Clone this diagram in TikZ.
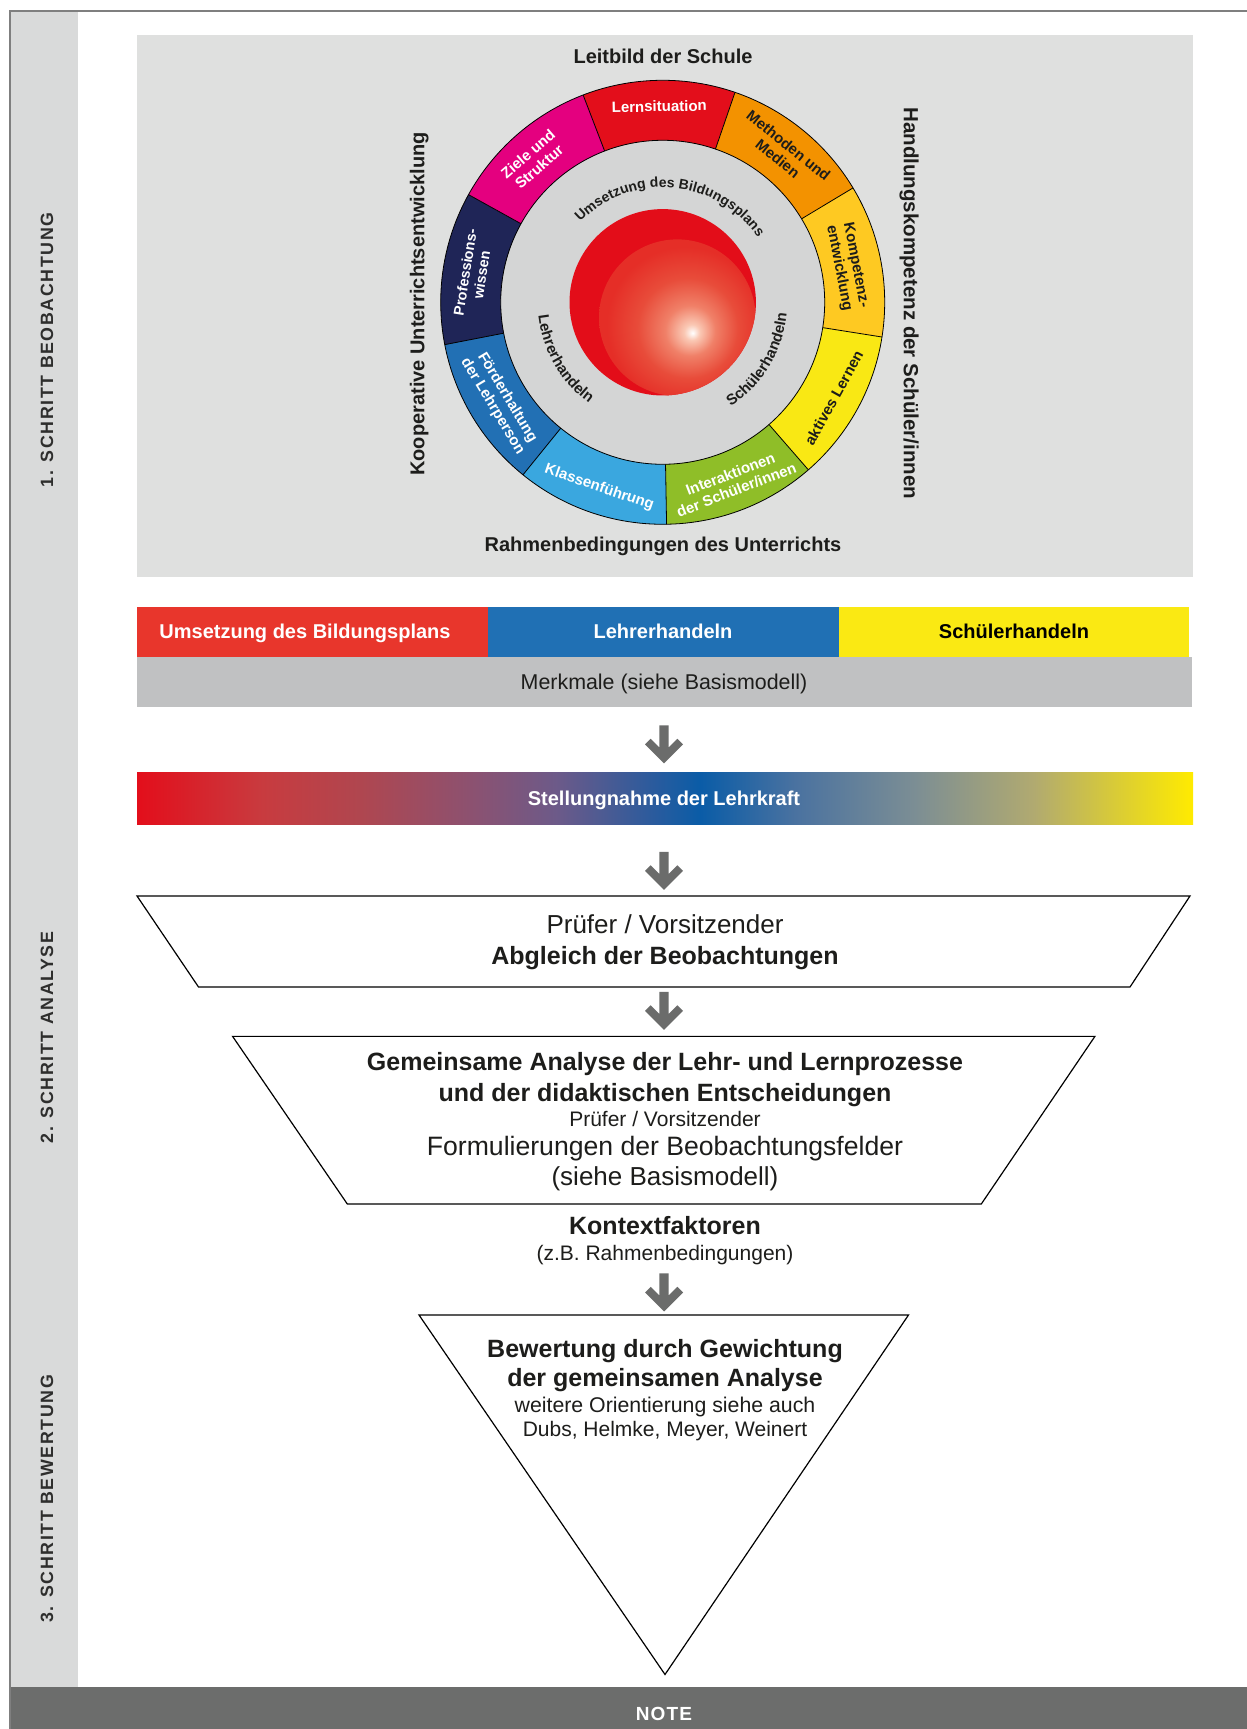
\documentclass[tikz,border=0pt]{standalone}
\usepackage{fontspec}
\setmainfont{Liberation Sans}
\newfontfamily\stepfont[LetterSpace=9]{Liberation Sans Bold}
\newfontfamily\notefont[LetterSpace=6]{Liberation Sans Bold}
\usetikzlibrary{decorations.text}
\definecolor{framegray}{HTML}{7F7F7F}
\definecolor{sidebar}{HTML}{D9DADA}
\definecolor{notebar}{HTML}{6C6D6C}
\definecolor{panelgray}{HTML}{DFE0DF}
\definecolor{innergray}{HTML}{D4D5D5}
\definecolor{cLern}{HTML}{E30E1B}
\definecolor{cMeth}{HTML}{F39200}
\definecolor{cKomp}{HTML}{FEC922}
\definecolor{cAkt}{HTML}{F9E814}
\definecolor{cInter}{HTML}{8FBE28}
\definecolor{cKlass}{HTML}{3AA7DF}
\definecolor{cFoerd}{HTML}{2270B4}
\definecolor{cProf}{HTML}{1F2557}
\definecolor{cZiele}{HTML}{E4007F}
\definecolor{sphred}{HTML}{E30D19}
\definecolor{sphA}{HTML}{FAC8B4}
\definecolor{sphB}{HTML}{F08068}
\definecolor{sphC}{HTML}{E84C3A}
\definecolor{sphD}{HTML}{E52E27}
\definecolor{barred}{HTML}{E8362C}
\definecolor{barblue}{HTML}{2070B4}
\definecolor{baryellow}{HTML}{FAE913}
\definecolor{bargray}{HTML}{C0C1C2}
\definecolor{arrowgray}{HTML}{6B6C6B}
\definecolor{steptext}{HTML}{2E2E2D}
\definecolor{txt}{HTML}{1D1D1B}
\definecolor{g0}{HTML}{E30E1B}
\definecolor{g1}{HTML}{C83B3F}
\definecolor{g2}{HTML}{B0464F}
\definecolor{g3}{HTML}{8A5272}
\definecolor{g4}{HTML}{6C5A89}
\definecolor{g5}{HTML}{0A5CA7}
\definecolor{g6}{HTML}{4A72A0}
\definecolor{g7}{HTML}{7C8E94}
\definecolor{g8}{HTML}{B1AA70}
\definecolor{g9}{HTML}{FFEB00}
\pgfdeclareradialshading{spherelite}{\pgfpoint{4.9bp}{-4.9bp}}{color(0bp)=(white); color(2.5bp)=(sphA); color(8bp)=(sphB); color(16bp)=(sphC); color(25bp)=(sphD); color(50bp)=(sphD)}
\newcommand\wheelseg[3]{\fill[#3] (#1:222) arc[start angle=#1, end angle=#2, radius=222] -- (#2:162) arc[start angle=#2, end angle=#1, radius=162] -- cycle;}
\newcommand\innerA{\bfseries\fontsize{14}{14}\selectfont}
\newcommand\innerB{\bfseries\fontsize{15}{15}\selectfont}
\tikzset{
  seg/.style={font=\bfseries\fontsize{15}{17}\selectfont, align=center, inner sep=0pt, text=txt},
  ringline/.style={draw=black, line width=0.8pt},
  bold20/.style={font=\bfseries\fontsize{20}{24}\selectfont, inner sep=0pt, anchor=base, text=txt},
  reg21b/.style={font=\fontsize{21.4}{24}\selectfont, inner sep=0pt, anchor=base, text=txt},
  bold25/.style={font=\bfseries\fontsize{25}{30}\selectfont, inner sep=0pt, anchor=base, text=txt},
  reg26/.style={font=\fontsize{26}{30}\selectfont, inner sep=0pt, anchor=base, text=txt},
  reg21/.style={font=\fontsize{21}{25}\selectfont, inner sep=0pt, anchor=base, text=txt},
  steplabel/.style={font=\stepfont\fontsize{17.8}{18}\selectfont, text=steptext, inner sep=0pt, rotate=90},
  barbox/.style={inner sep=0pt, anchor=south west, draw=none},
  outline/.style={draw=black, line width=1.2pt, fill=white, line join=miter},
  pics/downarrow/.style={code={\fill[arrowgray] (-4.65,0) -- (4.65,0) -- (4.65,-22) -- (13.34,-13.34) -- (19,-19) -- (0,-38) -- (-19,-19) -- (-13.34,-13.34) -- (-4.65,-22) -- cycle;}}
}
\begin{document}
\begin{tikzpicture}[x=1pt,y=1pt]
\useasboundingbox (0,0) rectangle (1247,1729);
\fill[white] (0,0) rectangle (1247,1729);
% frame, sidebar, note bar
\fill[sidebar] (10.5,41.5) rectangle (78,1717);
\fill[notebar] (10.5,0) rectangle (1247,41.5);
\draw[framegray, line width=2pt] (9.5,0) -- (9.5,1718) -- (1247,1718);
\node[font=\notefont\fontsize{19}{19}\selectfont, text=white, inner sep=0pt] (note) at (664,15.3) {NOTE};
\node[steplabel] (s1) at (47,1379) {1. SCHRITT BEOBACHTUNG};
\node[steplabel] (s2) at (47,691.5) {2. SCHRITT ANALYSE};
\node[steplabel] (s3) at (47,230) {3. SCHRITT BEWERTUNG};
% panel
\node[barbox, fill=panelgray, minimum width=1056pt, minimum height=542pt] (panel) at (137,1152) {};
\node[bold20] (leitbild) at (663,1665) {Leitbild der Schule};
\node[bold20] (rahmen) at (663,1177) {Rahmenbedingungen des Unterrichts};
\node[bold20, rotate=90] (koop) at (424.4,1425) {Kooperative Unterrichtsentwicklung};
\node[bold20, font=\bfseries\fontsize{20.5}{24}\selectfont, rotate=-90] (handl) at (903.9,1425.7) {Handlungskompetenz der Schüler/innen};
% wheel
\begin{scope}[shift={(662.7,1426.7)}]
\fill[innergray] (0,0) circle[radius=162];
\wheelseg{71}{111}{cLern}
\wheelseg{31}{71}{cMeth}
\wheelseg{-9}{31}{cKomp}
\wheelseg{-49}{-9}{cAkt}
\wheelseg{-89}{-49}{cInter}
\wheelseg{-129}{-89}{cKlass}
\wheelseg{-169}{-129}{cFoerd}
\wheelseg{151}{191}{cProf}
\wheelseg{111}{151}{cZiele}
\draw[ringline] (0,0) circle[radius=222];
\draw[ringline] (0,0) circle[radius=162];
\foreach \a in {111,71,31,-9,-49,-89,-129,-169,151} \draw[ringline] (\a:162) -- (\a:222);
% sphere
\fill[sphred] (0,0) circle[radius=93.2];
\begin{scope}
\clip (0,0) circle[radius=93.2];
\shade[shading=spherelite] (14.6,-15.4) circle[radius=78.3];
\end{scope}
% segment labels
\node[seg, text=white, rotate=1] (lern) at (91:196) {Lernsituation};
\node[seg, rotate=-39] (meth) at (51.3:192.7) {Methoden und\\Medien};
\node[seg, rotate=-79] (komp) at (10.9:188) {Kompetenz-\\entwicklung};
\node[seg, rotate=61] (akt) at (-29.2:196) {aktives Lernen};
\node[seg, text=white, rotate=21] (inter) at (-68.5:193) {Interaktionen\\der Schüler/innen};
\node[seg, text=white, rotate=-19] (klass) at (-108.9:196) {Klassenführung};
\node[seg, text=white, rotate=-59] (foerd) at (-148.5:191) {Förderhaltung\\der Lehrperson};
\node[seg, text=white, rotate=81, font=\bfseries\fontsize{14.5}{16.5}\selectfont] (prof) at (171.4:191.6) {Professions-\\wissen};
\node[seg, text=white, rotate=41] (ziele) at (132.3:192) {Ziele und\\Struktur};
% inner curved labels
\path[decorate, decoration={text along path, text align=center, text color=txt, text={|\innerA|Umsetzung des Bildungsplans}}] (140:115) arc[start angle=140, end angle=30, radius=115];
\path[decorate, decoration={text along path, text align=center, text color=txt, text={|\innerB|Lehrerhandeln}}] (180:125) arc[start angle=180, end angle=240, radius=125];
\path[decorate, decoration={text along path, text align=center, text color=txt, text={|\innerB|Schülerhandeln}}] (-61:124.5) arc[start angle=-61, end angle=-1, radius=124.5];
\end{scope}
% bars
\node[barbox, fill=barred, minimum width=351pt, minimum height=50pt] (redbar) at (137,1072) {};
\node[barbox, fill=barblue, minimum width=350.5pt, minimum height=50.7pt] (bluebar) at (488,1071.3) {};
\node[barbox, fill=baryellow, minimum width=350.5pt, minimum height=50pt] (yellowbar) at (838.5,1072) {};
\node[barbox, fill=bargray, minimum width=1055pt, minimum height=50.5pt] (graybar) at (137,1021.5) {};
\node[bold20, text=white] (redtxt) at (305,1090) {Umsetzung des Bildungsplans};
\node[bold20, text=white] (bluetxt) at (663,1090) {Lehrerhandeln};
\node[bold20, text=black] (yellowtxt) at (1014,1090) {Schülerhandeln};
\node[reg21b] (merkmale) at (664,1039.6) {Merkmale (siehe Basismodell)};
\coordinate (ar1) at (664,1003.5);
\pic at (ar1) {downarrow};
% gradient bar
\shade[left color=g0, right color=g1] (137,904.3) rectangle (262.5,956);
\shade[left color=g1, right color=g2] (262,904.3) rectangle (358.5,956);
\shade[left color=g2, right color=g3] (358,904.3) rectangle (477.5,956);
\shade[left color=g3, right color=g4] (477,904.3) rectangle (557.5,956);
\shade[left color=g4, right color=g5] (557,904.3) rectangle (700.5,956);
\shade[left color=g5, right color=g6] (700,904.3) rectangle (795.5,956);
\shade[left color=g6, right color=g7] (795,904.3) rectangle (915.5,956);
\shade[left color=g7, right color=g8] (915,904.3) rectangle (1034.5,956);
\shade[left color=g8, right color=g9] (1034,904.3) rectangle (1193,956);
\node[barbox, minimum width=1056pt, minimum height=51.7pt] (gradbar) at (137,904.3) {};
\node[bold20, text=white] (stellung) at (664,923) {Stellungnahme der Lehrkraft};
\coordinate (ar2) at (664,877);
\pic at (ar2) {downarrow};
% trapezoid 1
\draw[outline] (137,833) -- (1190,833) -- (1130,742) -- (198.5,742) -- cycle;
\node[reg26] (pruefer1) at (665,795.2) {Prüfer / Vorsitzender};
\node[bold25] (abgleich) at (665,764.5) {Abgleich der Beobachtungen};
\coordinate (ar3) at (664,737);
\pic at (ar3) {downarrow};
% trapezoid 2
\draw[outline] (232.6,692.6) -- (1094.9,692.6) -- (981.3,525) -- (347.3,525) -- cycle;
\node[bold25] (gem1) at (665,658.5) {Gemeinsame Analyse der Lehr- und Lernprozesse};
\node[bold25] (gem2) at (665,627.5) {und der didaktischen Entscheidungen};
\node[reg21] (pruefer2) at (665,602.7) {Prüfer / Vorsitzender};
\node[reg26, font=\fontsize{26.6}{30}\selectfont] (formul) at (665,573) {Formulierungen der Beobachtungsfelder};
\node[reg26] (siehe) at (665,543.2) {(siehe Basismodell)};
\node[bold25] (kontext) at (665,494.5) {Kontextfaktoren};
\node[reg21] (zb) at (665,468.7) {(z.B. Rahmenbedingungen)};
\coordinate (ar4) at (664,455.5);
\pic at (ar4) {downarrow};
% triangle
\draw[outline] (419,414) -- (908.5,414) -- (665,54.5) -- cycle;
\node[bold25] (bew1) at (665,371.5) {Bewertung durch Gewichtung};
\node[bold25] (bew2) at (665,342.5) {der gemeinsamen Analyse};
\node[reg21, font=\fontsize{21.3}{25}\selectfont] (weitere) at (665,316.7) {weitere Orientierung siehe auch};
\node[reg21] (dubs) at (665,292.7) {Dubs, Helmke, Meyer, Weinert};
\end{tikzpicture}
\end{document}
